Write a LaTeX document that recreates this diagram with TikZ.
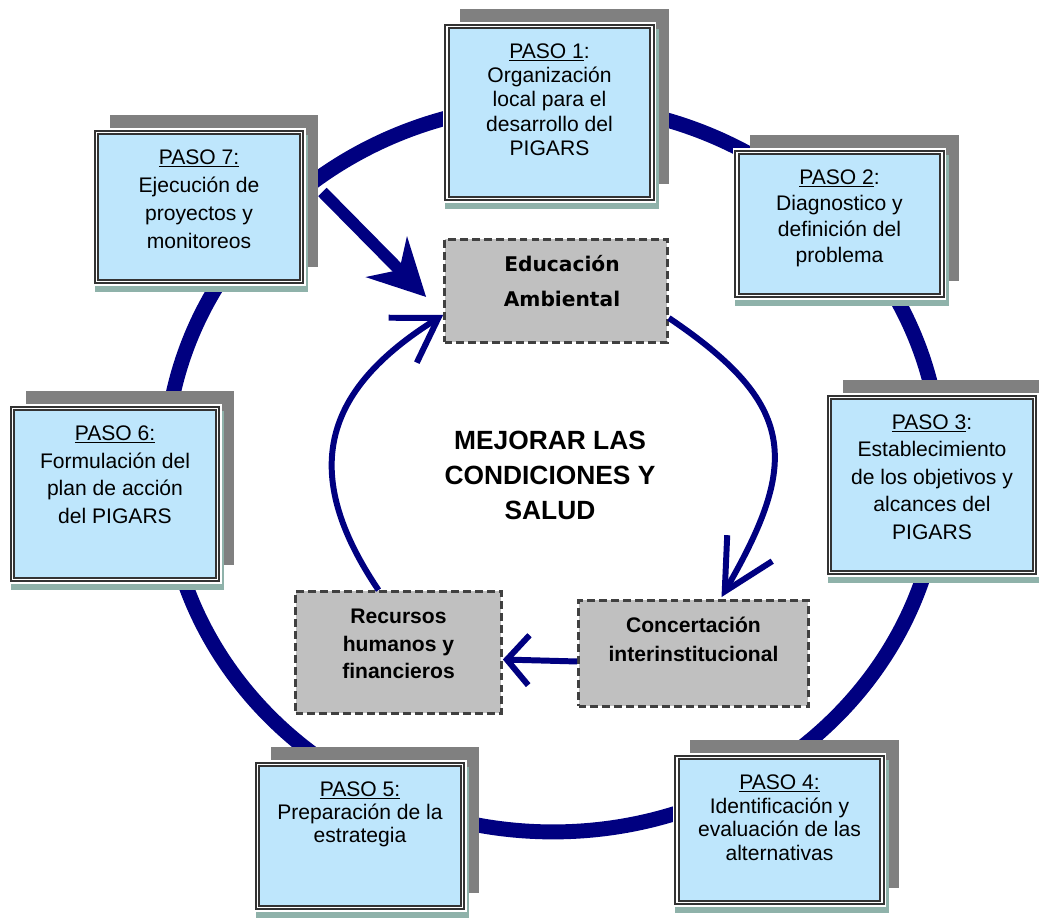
\documentclass[tikz,border=0pt]{standalone}
\usepackage{fontspec}
\setmainfont{Liberation Sans}
\newfontfamily\edufont{DejaVu Sans}
\usepackage{tikz}
\usetikzlibrary{calc,positioning,arrows.meta,shadows}
\definecolor{navy}{RGB}{0,0,128}
\definecolor{pasoblue}{RGB}{190,230,252}
\definecolor{shadowgrey}{RGB}{128,128,128}
\definecolor{shadowteal}{RGB}{143,178,170}
\definecolor{framegrey}{RGB}{51,51,51}
\definecolor{boxgrey}{RGB}{192,192,192}
\definecolor{dashgrey}{RGB}{64,64,64}

% text of a box, set from its top edge
\newcommand{\boxtext}[4]{\parbox[c][#2][t]{#1}{\centering\baselineskip=#3\relax\rule{0pt}{18pt}#4}}

\begin{document}
\begin{tikzpicture}[x=0.02cm,y=0.02cm]

\tikzset{paso/.style={font=\fontsize{12}{14}\selectfont,inner sep=0pt,fill=pasoblue,draw=framegrey,line width=1.1pt,double=white,double distance=1pt,
  general shadow={fill=shadowgrey,draw=shadowgrey,line width=2.2pt,shadow xshift=0.3cm,shadow yshift=0.32cm},
  general shadow={fill=shadowteal,draw=shadowteal,line width=5.1pt,shadow xshift=0.05cm,shadow yshift=-0.13cm},
  preaction={draw=white,line width=5.1pt}},
greybox/.style={font=\bfseries\fontsize{12}{14}\selectfont,inner sep=0pt,fill=boxgrey,draw=dashgrey,line width=1.6pt,dash pattern=on 4.5pt off 2.3pt},
cyclearrow/.style={navy,line width=3.4pt}}

\useasboundingbox (0,0) rectangle (1039,918);

% Outer cycle
\draw[navy,line width=8.5pt] (553,450) ellipse [x radius=7.76cm,y radius=7.28cm];

% Steps
\node[paso] (p1) at (549.5,805.5) {\boxtext{4.1cm}{3.44cm}{13.9pt}{\underline{PASO 1}:\\Organización\\local para el\\desarrollo del\\PIGARS}};
\node[paso] (p2) at (839.5,694) {\boxtext{4.1cm}{2.86cm}{14.9pt}{\underline{PASO 2}:\\Diagnostico y\\definición del\\problema}};
\node[paso] (p3) at (932,433) {\boxtext{4.1cm}{3.5cm}{15.7pt}{\underline{PASO 3}:\\Establecimiento\\de los objetivos y\\alcances del\\PIGARS}};
\node[paso] (p4) at (779.5,88) {\boxtext{4.1cm}{2.9cm}{13.6pt}{\underline{PASO 4:}\\Identificación y\\evaluación de las\\alternativas}};
\node[paso] (p5) at (360,82) {\boxtext{4.1cm}{2.86cm}{13.3pt}{\underline{PASO 5:}\\Preparación de la\\estrategia}};
\node[paso] (p6) at (115,424) {\boxtext{4.1cm}{3.42cm}{15.9pt}{\underline{PASO 6:}\\Formulación del\\plan de acción\\del PIGARS}};
\node[paso] (p7) at (199,711) {\boxtext{4.1cm}{2.98cm}{16pt}{\underline{PASO 7:}\\Ejecución de\\proyectos y\\monitoreos}};

% Inner cycle
\node[greybox] (edu) at (556,627) {\boxtext{4.46cm}{2.06cm}{20.4pt}{\hspace*{0.24cm}\edufont\bfseries\fontsize{11.5}{20.4}\selectfont Educación\\\hspace*{0.24cm}Ambiental}};
\node[greybox] (conc) at (693.5,264.5) {\boxtext{4.6cm}{2.12cm}{17pt}{Concertación\\interinstitucional}};
\node[greybox] (recur) at (398.5,265.5) {\boxtext{4.12cm}{2.44cm}{15.9pt}{Recursos\\humanos y\\financieros}};
\node[font=\bfseries\fontsize{15}{19.8}\selectfont,align=center] (goal) at (550,442.5) {MEJORAR LAS\\CONDICIONES Y\\SALUD};

\draw[cyclearrow,-{Straight Barb[length=1cm,width=1.04cm,sharp]}] ($(edu.east)+(0,-27)$) to[out=-34,in=60,looseness=1.4] ($(conc.north)+(28,2)$);
\draw[cyclearrow,-{Straight Barb[length=0.44cm,width=1cm,sharp]}] ($(conc.west)+(0,-8)$) -- ($(recur.east)+(0,-7)$);
\draw[cyclearrow,-{Straight Barb[length=0.84cm,width=1.06cm,sharp]}] ($(recur.north)+(-20,0)$) to[out=124,in=212,looseness=1.29] ($(edu.west)+(0,-24)$);

% Step 7 into the cycle
\draw[navy,line width=6.8pt,-{Stealth[length=1.12cm,width=1.14cm,inset=0.36cm]}] ($(p7.east)+(20,15)$) -- ($(edu.west)+(-17,-6)$);

\end{tikzpicture}
\end{document}
